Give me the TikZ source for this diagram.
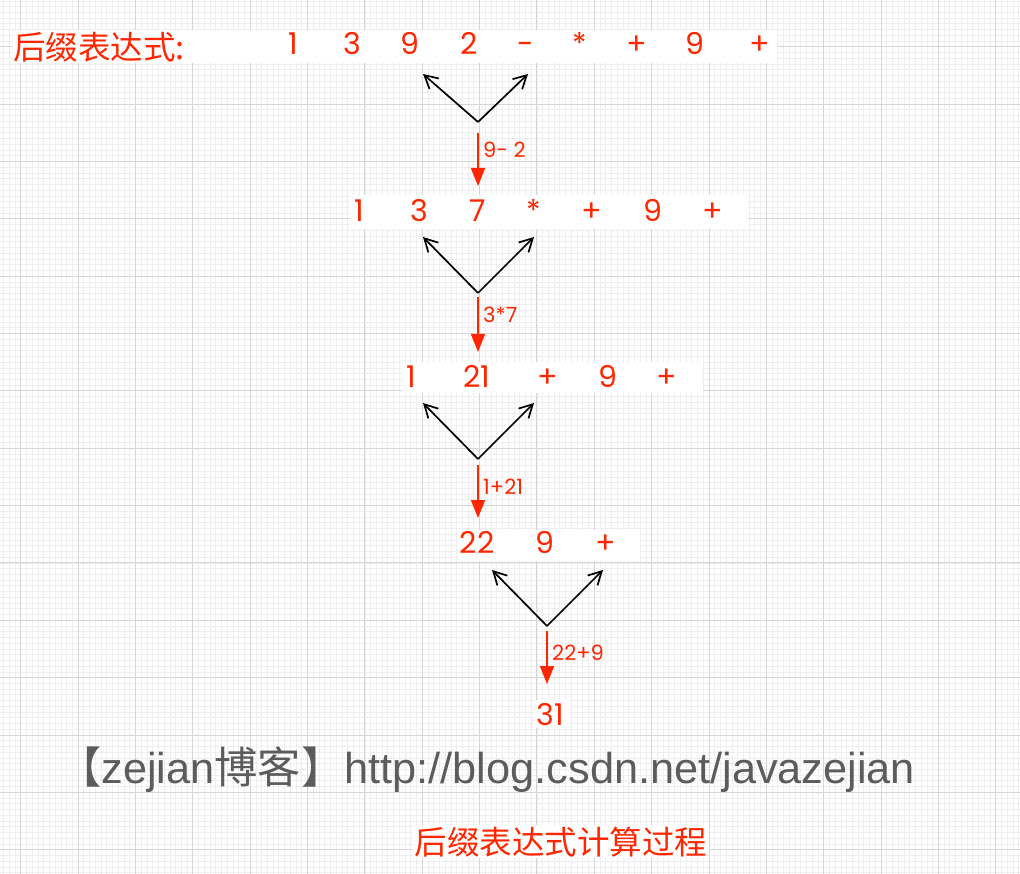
\documentclass[tikz,border=0pt]{standalone}
\usepackage{fontspec}
\newfontfamily\geo{Poppins}
\newfontfamily\cjk{Noto Sans CJK SC}
\newfontfamily\helv{Liberation Sans}
\usetikzlibrary{arrows.meta, positioning}
\definecolor{exred}{RGB}{255,38,0}
\definecolor{markgray}{RGB}{92,92,92}
\definecolor{minorline}{RGB}{238,238,238}
\definecolor{majorline}{RGB}{214,214,214}
\tikzstyle{token} = [font=\geo\fontsize{30}{30}\selectfont, text=exred, anchor=base, inner sep=0pt]
\tikzstyle{steplabel} = [font=\geo\fontsize{21}{21}\selectfont, text=exred, anchor=west, inner sep=0pt]
\tikzstyle{cjktext} = [font=\cjk\fontsize{32.5}{32.5}\selectfont, text=exred, inner sep=0pt]
\tikzstyle{pick} = [-{Straight Barb[length=13pt,width=14pt]}, line width=1.7pt, black]
\tikzstyle{reduce} = [-{Triangle[length=18pt,width=14pt]}, line width=1.7pt, exred]
\tikzstyle{rowbg} = [fill=white, draw=none]

\begin{document}
\begin{tikzpicture}[x=1pt, y=-1pt]
    \useasboundingbox (0,0) rectangle (1020,874);
    \fill[white] (0,0) rectangle (1020,874);
    \begin{scope}
        \clip (0,0) rectangle (1020,874);
        \begin{scope}[shift={(20.7,46.7)}]
            \draw[minorline, line width=0.6pt, step=5.735pt] (-40pt,-900pt) grid (1010pt,60pt);
            \draw[majorline, line width=0.8pt, step=57.35pt] (-40pt,-900pt) grid (1010pt,60pt);
        \end{scope}
    \end{scope}

    \fill[rowbg] (13,30) rectangle (777,63);
    \fill[rowbg] (350,195) rectangle (748,229);
    \fill[rowbg] (402,362) rectangle (703,393);
    \fill[rowbg] (458,530) rectangle (640,561);
    \fill[rowbg] (534,700) rectangle (570,728);
    \fill[rowbg] (413,825) rectangle (708,858);

    \node[cjktext, anchor=west] (title) at (13,47) {后缀表达式:};

    \foreach \tok/\xx [count=\i] in {1/293, 3/352, 9/410, 2/469, -/526, */580, +/637, 9/695, +/760}
        \node[token] (a\i) at (\xx,55) {\tok};
    \foreach \tok/\xx [count=\i] in {1/359, 3/419, 7/478, */534, +/592, 9/653, +/713}
        \node[token] (b\i) at (\xx,222) {\tok};
    \foreach \tok/\xx [count=\i] in {1/411, 21/477, +/548, 9/608, +/667}
        \node[token] (c\i) at (\xx,388) {\tok};
    \foreach \tok/\xx [count=\i] in {22/477, 9/545, +/606}
        \node[token] (d\i) at (\xx,553) {\tok};
    \node[token] (result) at (550,725) {31};

    \foreach \k/\vx/\vy/\lx/\rx/\ty/\sy/\ey/\ly/\lab in {
        1/478/122/423/528/74/133/186/150/{9- 2},
        2/478/293/423/534/237/297/352/315/{3*7},
        3/478/459/423/534/403/465/518/487/{1+21},
        4/547/626/492/603/570/631/684/653/{22+9}} {
        \coordinate (v\k) at (\vx,\vy);
        \coordinate (pl\k) at (\lx,\ty);
        \coordinate (pr\k) at (\rx,\ty);
        \coordinate (s\k) at (\vx,\sy);
        \coordinate (e\k) at (\vx,\ey);
        \draw[pick] (v\k) -- (pl\k);
        \draw[pick] (v\k) -- (pr\k);
        \draw[reduce] (s\k) -- (e\k);
        \node[steplabel, right=5pt of s\k, yshift=\sy-\ly] (op\k) {\lab};
    }

    \node[anchor=base west, inner sep=0pt, text=markgray, font=\helv\fontsize{43.3}{43.3}\selectfont] (mark) at (58,783)
        {{\cjk 【}zejian{\cjk 博客】}http://blog.csdn.net/javazejian};
    \node[cjktext] (caption) at (561,842) {后缀表达式计算过程};
\end{tikzpicture}
\end{document}
